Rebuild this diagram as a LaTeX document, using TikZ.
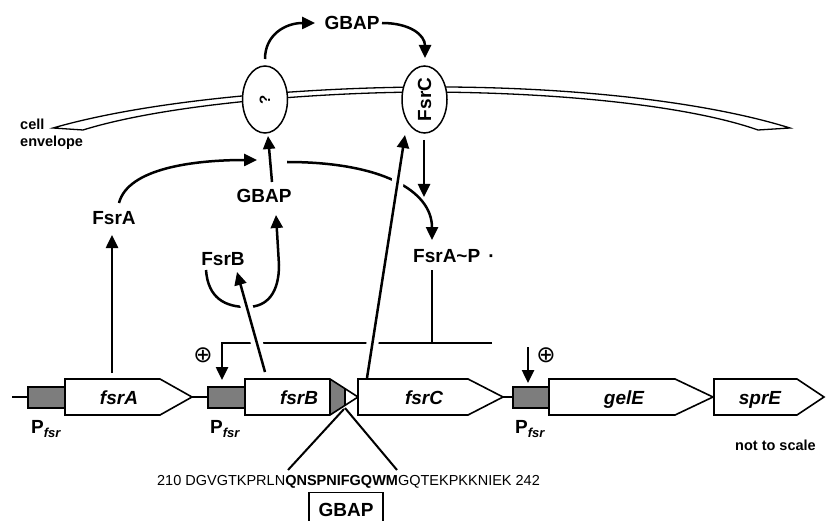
\documentclass[tikz,border=0pt]{standalone}
\usepackage{fontspec}
\setmainfont{Liberation Sans}
\newfontfamily\djvfont{DejaVu Sans}
\usetikzlibrary{arrows.meta,shapes.geometric}
\definecolor{promgray}{RGB}{125,125,125}
\begin{document}
\begin{tikzpicture}[x=1pt,y=-1pt,
  lab/.style={font=\fontsize{19}{21}\selectfont\bfseries, inner sep=0pt, anchor=base},
  genelab/.style={font=\fontsize{19}{21}\selectfont\bfseries\itshape, inner sep=0pt, anchor=base},
  smallbold/.style={font=\fontsize{14.5}{17}\selectfont\bfseries, inner sep=0pt, anchor=base west},
  arr/.style={line width=2.5pt, -{Triangle[length=13pt,width=12pt]}},
  ln/.style={line width=2.5pt},
  cutline/.style={draw=white, line width=12pt, shorten <=12pt, shorten >=14pt},
  gbox/.style={draw, line width=1.6pt, fill=white, line join=miter},
  prom/.style={draw, line width=1.6pt, fill=promgray},
  memb/.style={draw, ellipse, line width=1.5pt, fill=white, minimum width=45pt, minimum height=67pt, inner sep=0pt},
  plusnode/.style={inner sep=0pt, font=\djvfont\fontsize{23}{23}\selectfont}
]
\useasboundingbox (0,0) rectangle (826,521);

% ---------- cell envelope ----------
\draw[line width=1.3pt, fill=white, line join=miter]
  (53,128) .. controls (150,100) and (300,88) .. (420,87)
  .. controls (560,86) and (700,100) .. (790,128) -- (758,130)
  .. controls (690,106) and (560,92) .. (420,92)
  .. controls (300,93) and (160,106) .. (83,130) -- cycle;
\node[memb] (Q) at (265,99.5) {\rotatebox{90}{\fontsize{15}{15}\selectfont\bfseries ?}};
\node[memb] (C) at (424.5,99.5) {\rotatebox{90}{\fontsize{19}{19}\selectfont\bfseries FsrC}};
\node[smallbold] (cell) at (20,130) {cell};
\node[smallbold] (env) at (20,146.5) {envelope};

% ---------- labels ----------
\node[lab] (Gtop) at (352,30) {GBAP};
\node[lab] (Gmid) at (264,203) {GBAP};
\node[lab] (FsrA) at (114,225) {FsrA};
\node[lab] (FsrB) at (223,265) {FsrB};
\node[lab, anchor=base west] (FsrAP) at (413,262) {FsrA\textasciitilde P\hspace{8pt}·};

% ---------- free ends ----------
\coordinate (qtop) at (265,59);
\coordinate (gtopL) at (315,23);
\coordinate (gtopR) at (382,23);
\coordinate (ctop) at (425,58);
\coordinate (aStart) at (119,203);
\coordinate (aEnd) at (257,160);
\coordinate (gmidTop) at (272,182);
\coordinate (qbot) at (268,136);
\coordinate (gRight) at (287,162);
\coordinate (apTop) at (432,240);
\coordinate (cbotS) at (424,140);
\coordinate (cbotE) at (424,197);
\coordinate (uL) at (206,270);
\coordinate (uTip) at (276,215);
\coordinate (bStart) at (265,372);
\coordinate (bTip) at (237,272);
\coordinate (cStart) at (367,378);
\coordinate (cTip) at (405,135);
\coordinate (aGene) at (112,373);
\coordinate (aTip) at (112,235);
\coordinate (apBot) at (432,270);
\coordinate (junc) at (432,343);
\coordinate (barR) at (492,343);
\coordinate (barL) at (222,343);
\coordinate (p2) at (222,380);
\coordinate (p3a) at (528,347);
\coordinate (p3b) at (528,383);
\coordinate (gbapL) at (344,409);
\coordinate (gbapR) at (345,408);
\coordinate (seqL) at (288,470);
\coordinate (seqR) at (397,470);

% ---------- connectors ----------
\draw[arr] (qtop) .. controls (265,35) and (285,23) .. (gtopL);
\draw[arr] (gtopR) .. controls (410,23) and (425,35) .. (ctop);
\draw[arr] (aStart) .. controls (128,168) and (195,160) .. (aEnd);
\draw[arr] (gmidTop) -- (qbot);
\draw[arr] (gRight) .. controls (380,162) and (432,190) .. (apTop);
\draw[arr] (cbotS) -- (cbotE);
\draw[arr] (uL) .. controls (208,298) and (225,307) .. (247,307)
  .. controls (268,307) and (279,292) .. (279,265) -- (uTip);
\draw[arr] (aGene) -- (aTip);
\draw[ln] (apBot) -- (junc);
\draw[arr] (barR) -- (barL) -- (p2);
\draw[arr] (p3a) -- (p3b);
\node[plusnode] (plus1) at (203,355) {⊕};
\node[plusnode] (plus2) at (546,355) {⊕};

% crossings
\draw[cutline] (bStart) -- (bTip);
\draw[cutline] (cStart) -- (cTip);
\draw[arr] (bStart) -- (bTip);
\draw[arr] (cStart) -- (cTip);

% ---------- gene map ----------
\draw[line width=2pt] (12,397) -- (28,397);
\draw[line width=2pt] (192,397) -- (208,397);
\draw[line width=2pt] (503,397) -- (513,397);
\draw[prom] (28,387) rectangle (65,408);
\draw[prom] (208,387) rectangle (245,408);
\draw[prom] (513,387) rectangle (549,408);
\draw[gbox] (65,379) -- (160,379) -- (192,397) -- (160,415) -- (65,415) -- cycle;
\fill[white] (245,379) -- (330,379) -- (358,397) -- (330,415) -- (245,415) -- cycle;
\fill[promgray] (330,379) -- (345,388.6) -- (345,405.4) -- (330,415) -- cycle;
\draw[line width=1.6pt] (345,388.6) -- (345,405.4);
\draw[gbox, fill=none] (245,379) -- (330,379) -- (358,397) -- (330,415) -- (245,415) -- cycle;
\draw[line width=1.6pt] (330,379) -- (330,415);
\draw[gbox] (358,379) -- (468,379) -- (503,397) -- (468,415) -- (358,415) -- cycle;
\draw[gbox] (549,379) -- (675,379) -- (713,397) -- (675,415) -- (549,415) -- cycle;
\draw[gbox] (714,379) -- (797,379) -- (824,397) -- (797,415) -- (714,415) -- cycle;

\node[genelab] (gA) at (119,404) {fsrA};
\node[genelab] (gB) at (299,404) {fsrB};
\node[genelab] (gC) at (424,404) {fsrC};
\node[genelab] (gE) at (624,404) {gelE};
\node[genelab] (gS) at (760,404) {sprE};

\node[lab, anchor=base west] (P1) at (31,433) {P\raisebox{-4pt}{\fontsize{13}{13}\selectfont\bfseries\itshape fsr}};
\node[lab, anchor=base west] (P2) at (210,433) {P\raisebox{-4pt}{\fontsize{13}{13}\selectfont\bfseries\itshape fsr}};
\node[lab, anchor=base west] (P3) at (515,433) {P\raisebox{-4pt}{\fontsize{13}{13}\selectfont\bfseries\itshape fsr}};
\node[smallbold] (nts) at (735,450) {not to scale};

% ---------- GBAP peptide ----------
\draw[line width=2pt] (gbapL) -- (seqL);
\draw[line width=2pt] (gbapR) -- (seqR);
\node[inner sep=0pt, anchor=base, font=\fontsize{14.5}{17}\selectfont] (seq) at (348.5,485)
  {210 DGVGTKPRLN\textbf{QNSPNIFGQWM}GQTEKPKKNIEK 242};
\node[draw, line width=1.2pt, minimum width=74pt, minimum height=34pt, anchor=north, inner sep=0pt,
  font=\fontsize{19}{21}\selectfont\bfseries] (gbapbox) at (346,492) {GBAP};
\end{tikzpicture}
\end{document}
